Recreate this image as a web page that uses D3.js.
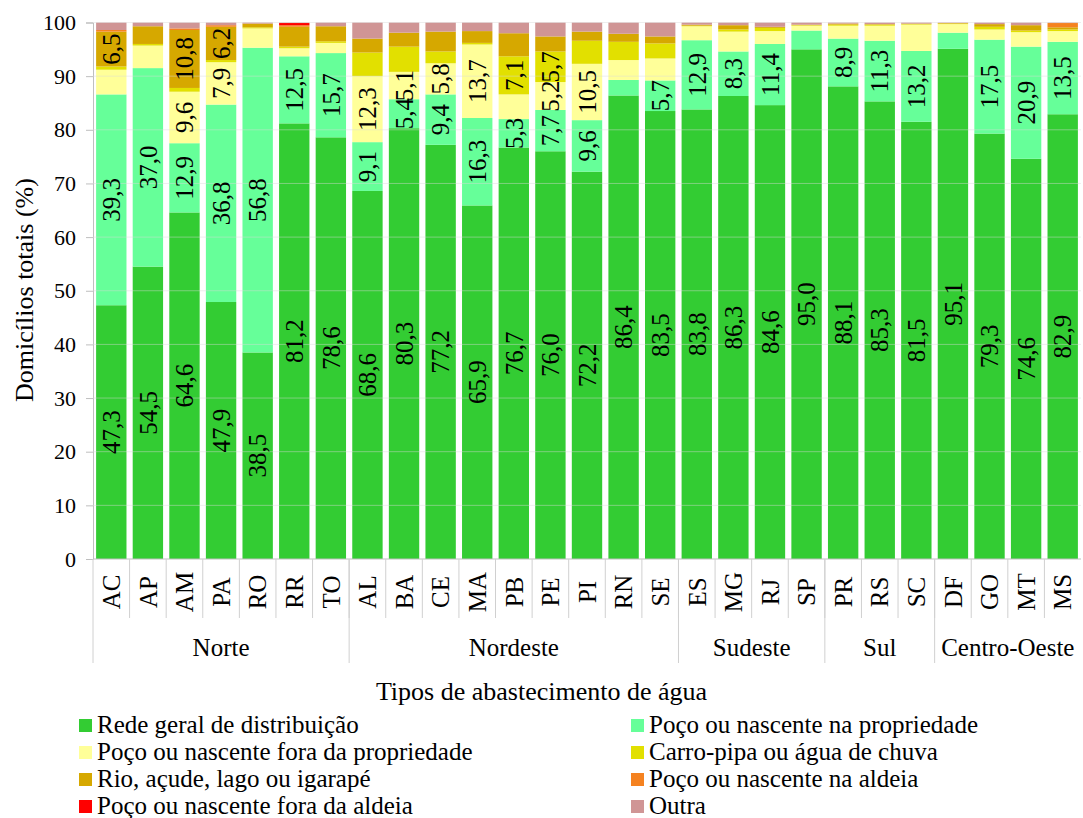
<!DOCTYPE html>
<meta charset="utf-8">
<style>
    body { margin: 0; background: #fff; }
</style>

<script src="https://d3js.org/d3.v7.min.js"></script>

<div id="d3chart"></div>

<script>
    // states, in chart order, and the regions they belong to
    var states = ["AC","AP","AM","PA","RO","RR","TO","AL","BA","CE","MA","PB","PE","PI","RN","SE","ES","MG","RJ","SP","PR","RS","SC","DF","GO","MT","MS"];
    var regionNames = ["Norte", "Nordeste", "Sudeste", "Sul", "Centro-Oeste"];
    var regionSizes = [7, 9, 4, 3, 4];

    // series (% of households), one value per state
    var rede           = [47.3,54.5,64.6,47.9,38.5,81.2,78.6,68.6,80.3,77.2,65.9,76.7,76.0,72.2,86.4,83.5,83.8,86.3,84.6,95.0,88.1,85.3,81.5,95.1,79.3,74.6,82.9];
    var pocoProp       = [39.3,37.0,12.9,36.8,56.8,12.5,15.7,9.1,5.4,9.4,16.3,5.3,7.7,9.6,2.9,5.7,12.9,8.3,11.4,3.5,8.9,11.3,13.2,3.0,17.5,20.9,13.5];
    var pocoForaProp   = [4.6,4.2,9.6,7.9,3.6,1.5,1.9,12.3,5.1,5.8,13.7,4.6,5.2,10.5,3.7,4.1,2.6,3.7,2.4,0.9,2.4,2.8,4.9,1.6,1.9,2.7,2.0];
    var carroPipa      = [0.6,0.3,0.7,0.4,0.2,0.3,0.3,4.4,4.7,2.2,0.3,7.1,5.7,4.3,3.4,2.8,0.1,0.4,0.6,0.1,0.2,0.2,0.1,0.1,0.5,0.3,0.3];
    var rio            = [6.5,3.3,10.8,6.2,0.7,3.7,2.8,2.6,2.6,3.7,2.2,4.3,2.8,1.7,1.5,1.3,0.2,0.8,0.2,0.1,0.2,0.1,0.1,0.1,0.5,1.0,0.4];
    var pocoAldeia     = [0.3,0,0.3,0.3,0,0.3,0,0,0,0,0,0,0,0,0,0,0,0,0,0,0,0,0,0,0,0,0.8];
    var pocoForaAldeia = [0,0,0,0,0,0.4,0,0,0,0,0,0,0,0,0,0,0,0,0,0,0,0,0,0,0,0,0];
    var outra          = [1.4,0.7,1.1,0.5,0.2,0.1,0.7,3.0,1.9,1.7,1.6,2.0,2.6,1.7,2.1,2.6,0.4,0.5,0.8,0.4,0.2,0.3,0.2,0.1,0.3,0.5,0.1];

    var seriesNames = ["Rede geral de distribuição", "Poço ou nascente na propriedade",
        "Poço ou nascente fora da propriedade", "Carro-pipa ou água de chuva",
        "Rio, açude, lago ou igarapé", "Poço ou nascente na aldeia",
        "Poço ou nascente fora da aldeia", "Outra"];
    var seriesValues = [rede, pocoProp, pocoForaProp, carroPipa, rio, pocoAldeia, pocoForaAldeia, outra];
    var seriesColors = ["#33cc33", "#66ff99", "#ffff99", "#e2e000", "#d6a800", "#f58220", "#ff0000", "#d09595"];

    var yTicks = d3.range(0, 101, 10);
    var FONT = "Liberation Serif";

    // build a table for d3.stack
    var keys = seriesNames;
    var table = states.map(function(s, i) {
        var row = {state: s};
        keys.forEach(function(k, j) { row[k] = seriesValues[j][i]; });
        return row;
    });

    // set the dimensions and margins of the graph
    var W = 1083, H = 818;
    var margin = {top: 22.5, right: 2, bottom: 259, left: 93},
        width = W - margin.left - margin.right,
        height = H - margin.top - margin.bottom;

    var root = d3.select("#d3chart")
        .append("svg")
        .attr("width", W)
        .attr("height", H)
        .style("font-family", FONT);

    var svg = root.append("g")
        .attr("transform", "translate(" + margin.left + "," + margin.top + ")");

    // scales
    var x = d3.scaleBand()
        .domain(states)
        .range([0, width])
        .paddingInner(0.17)
        .paddingOuter(0.085);

    var y = d3.scaleLinear()
        .domain([0, 100])
        .range([height, 0]);

    var color = d3.scaleOrdinal()
        .domain(keys)
        .range(seriesColors);

    // Y axis
    var yAxis = svg.append("g")
        .call(d3.axisLeft(y).tickValues(yTicks).tickSize(7).tickPadding(10));
    yAxis.attr("font-family", null);
    yAxis.select(".domain").attr("stroke", "#bfbfbf");
    yAxis.selectAll(".tick line").attr("stroke", "#bfbfbf");
    yAxis.selectAll(".tick text")
        .style("font-size", "22px")
        .style("font-family", FONT)
        .attr("fill", "#000");

    // stacked bars
    var stacked = d3.stack().keys(keys)(table);

    svg.append("g")
        .selectAll("g")
        .data(stacked)
        .enter()
        .append("g")
        .attr("fill", function(d) { return color(d.key); })
        .selectAll("rect")
        .data(function(d) { return d; })
        .enter()
        .append("rect")
        .attr("x", function(d) { return x(d.data.state); })
        .attr("y", function(d) { return y(d[1]); })
        .attr("height", function(d) { return y(d[0]) - y(d[1]); })
        .attr("width", x.bandwidth());

    // faint gridlines showing through the bars
    svg.append("g")
        .selectAll("line")
        .data(yTicks.filter(function(t) { return t > 0; }))
        .enter()
        .append("line")
        .attr("x1", 0)
        .attr("x2", width)
        .attr("y1", function(d) { return y(d); })
        .attr("y2", function(d) { return y(d); })
        .attr("stroke", "#d9d9d9")
        .attr("stroke-opacity", 0.45)
        .attr("stroke-width", 1);

    // value labels (only segments of 5% or more)
    var fmt = function(v) { return d3.format(".1f")(v).replace(".", ","); };
    var labels = [];
    stacked.forEach(function(layer) {
        layer.forEach(function(d) {
            var v = d[1] - d[0];
            if (v >= 5) labels.push({state: d.data.state, mid: (d[0] + d[1]) / 2, text: fmt(d.data[layer.key])});
        });
    });
    svg.append("g")
        .selectAll("text")
        .data(labels)
        .enter()
        .append("text")
        .attr("transform", function(d) {
            return "translate(" + (x(d.state) + x.bandwidth() / 2) + "," + y(d.mid) + ") rotate(-90)";
        })
        .attr("text-anchor", "middle")
        .attr("dy", "0.35em")
        .style("font-family", FONT)
        .style("font-size", "25px")
        .text(function(d) { return d.text; });

    // X axis line
    svg.append("line")
        .attr("x1", 0).attr("x2", width)
        .attr("y1", height).attr("y2", height)
        .attr("stroke", "#bfbfbf");

    // state separators and labels
    var step = x.step();
    svg.append("g")
        .selectAll("line")
        .data(d3.range(1, states.length))
        .enter()
        .append("line")
        .attr("x1", function(i) { return x(states[i]) - step * x.paddingInner() / 2; })
        .attr("x2", function(i) { return x(states[i]) - step * x.paddingInner() / 2; })
        .attr("y1", height)
        .attr("y2", height + 59)
        .attr("stroke", "#d0d0d0");

    svg.append("g")
        .selectAll("text")
        .data(states)
        .enter()
        .append("text")
        .attr("transform", function(d) {
            return "translate(" + (x(d) + x.bandwidth() / 2) + "," + (height + 33) + ") rotate(-90)";
        })
        .attr("text-anchor", "middle")
        .attr("dy", "0.35em")
        .style("font-family", FONT)
        .style("font-size", "25px")
        .text(function(d) { return d; });

    // region separators and labels
    var bounds = [0];
    regionSizes.forEach(function(n, i) { bounds.push(bounds[i] + n); });
    var edge = function(k) {
        if (k === 0) return 0;
        return k >= states.length ? width : x(states[k]) - step * x.paddingInner() / 2;
    };
    svg.append("g")
        .selectAll("line")
        .data(bounds.slice(0, -1))
        .enter()
        .append("line")
        .attr("x1", function(k) { return edge(k); })
        .attr("x2", function(k) { return edge(k); })
        .attr("y1", height)
        .attr("y2", height + 104)
        .attr("stroke", "#d0d0d0");

    svg.append("g")
        .selectAll("text")
        .data(regionNames)
        .enter()
        .append("text")
        .attr("x", function(d, i) { return (edge(bounds[i]) + edge(bounds[i + 1])) / 2; })
        .attr("y", height + 97)
        .attr("text-anchor", "middle")
        .style("font-family", FONT)
        .style("font-size", "25px")
        .text(function(d) { return d; });

    // axis titles
    svg.append("text")
        .attr("text-anchor", "middle")
        .attr("x", W / 2 - margin.left)
        .attr("y", 700 - margin.top)
        .style("font-family", FONT)
        .style("font-size", "26px")
        .text("Tipos de abastecimento de água");

    svg.append("text")
        .attr("text-anchor", "middle")
        .attr("transform", "translate(" + (33 - margin.left) + "," + (290 - margin.top) + ") rotate(-90)")
        .style("font-family", FONT)
        .style("font-size", "26px")
        .text("Domicílios totais (%)");

    // legend, two columns, filled row by row
    var legend = root.append("g");
    var items = legend.selectAll("g")
        .data(keys)
        .enter()
        .append("g")
        .attr("transform", function(d, i) {
            var cx = i % 2 === 0 ? 79 : 631;
            var cy = 733 + Math.floor(i / 2) * 27;
            return "translate(" + cx + "," + cy + ")";
        });
    items.append("rect")
        .attr("x", 0)
        .attr("y", -14)
        .attr("width", 13)
        .attr("height", 13)
        .attr("fill", function(d) { return color(d); });
    items.append("text")
        .attr("x", 18)
        .attr("y", 0)
        .style("font-family", FONT)
        .style("font-size", "25px")
        .text(function(d) { return d; });
</script>
